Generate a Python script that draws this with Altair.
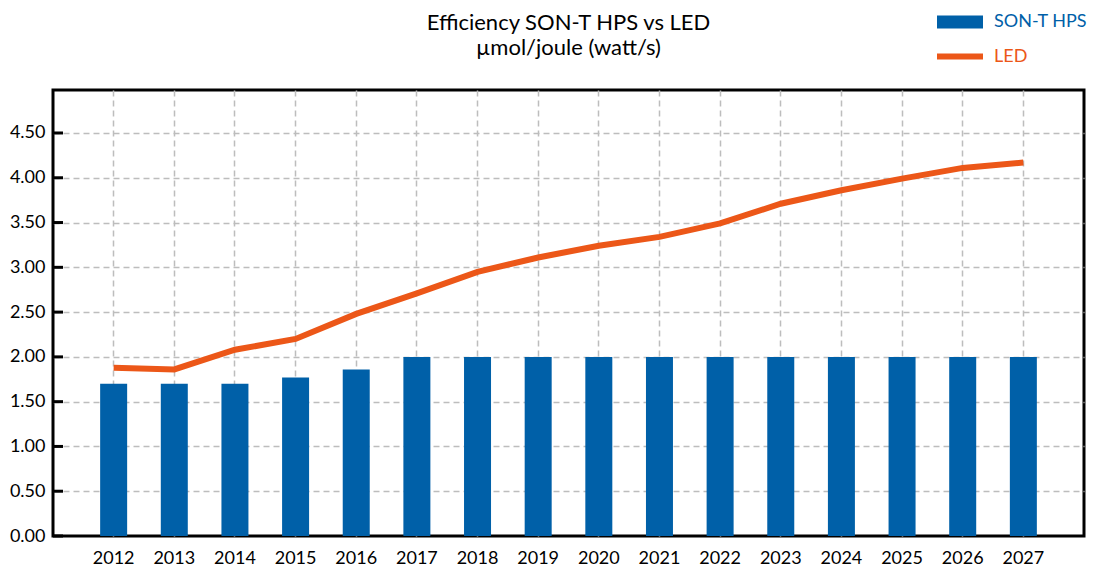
import altair as alt
import pandas as pd

years = ["2012", "2013", "2014", "2015", "2016", "2017", "2018", "2019",
         "2020", "2021", "2022", "2023", "2024", "2025", "2026", "2027"]
son_t_hps = [1.70, 1.70, 1.70, 1.77, 1.86, 2.00, 2.00, 2.00,
             2.00, 2.00, 2.00, 2.00, 2.00, 2.00, 2.00, 2.00]
led = [1.88, 1.86, 2.08, 2.20, 2.48, 2.71, 2.95, 3.11,
       3.24, 3.34, 3.49, 3.71, 3.86, 3.99, 4.11, 4.17]
y_ticks = [0.0, 0.5, 1.0, 1.5, 2.0, 2.5, 3.0, 3.5, 4.0, 4.5]
title_lines = ["Efficiency SON-T HPS vs LED", "µmol/joule (watt/s)"]

BLUE = "#0060A8"
ORANGE = "#EC5718"
FONT = "Lato"

df = pd.DataFrame({
    "year": years,
    "son": son_t_hps,
    "led": led,
    "bar_series": ["SON-T HPS"] * len(years),
    "line_series": ["LED"] * len(years),
})
ticks_df = pd.DataFrame({"v": y_ticks})

x_enc = alt.X("year:N", sort=years,
              scale=alt.Scale(paddingInner=0, paddingOuter=0.5),
              axis=alt.Axis(title=None, labelAngle=0, ticks=False, domain=False,
                            grid=True, gridDash=[6, 4], gridColor="#BDBDBD",
                            gridWidth=1.5, labelFont=FONT, labelFontSize=18,
                            labelColor="black", labelPadding=13))
y_scale = alt.Scale(domain=[0, 4.98], nice=False, zero=True)

bars = alt.Chart(df).mark_bar(size=27).encode(
    x=x_enc,
    y=alt.Y("son:Q", scale=y_scale,
            axis=alt.Axis(title=None, values=y_ticks, format=".2f", ticks=False,
                          domain=False, grid=True, gridDash=[6, 4],
                          gridColor={"condition": {"test": "datum.value === 0",
                                                   "value": "transparent"},
                                     "value": "#BDBDBD"},
                          gridWidth=1.5, labelFont=FONT,
                          labelFontSize=18, labelColor="black", labelPadding=8)),
    fill=alt.Fill("bar_series:N",
                  scale=alt.Scale(domain=["SON-T HPS"], range=[BLUE]),
                  legend=alt.Legend(title=None, orient="none", legendX=884,
                                    legendY=-91, padding=0,
                                    symbolType="M-1,-0.28H1V0.28H-1Z",
                                    symbolSize=2116, symbolStrokeWidth=0,
                                    symbolOpacity=1,
                                    labelColor=BLUE, labelFont=FONT,
                                    labelFontSize=18, labelOffset=11)),
)

line = alt.Chart(df).mark_line(strokeWidth=6).encode(
    x=alt.X("year:N", sort=years),
    y=alt.Y("led:Q", scale=y_scale),
    stroke=alt.Stroke("line_series:N",
                      scale=alt.Scale(domain=["LED"], range=[ORANGE]),
                      legend=alt.Legend(title=None, orient="none", legendX=881,
                                        legendY=-59.5, padding=0,
                                        symbolType="stroke", symbolSize=2116,
                                        symbolStrokeWidth=6,
                                        labelColor=ORANGE, labelFont=FONT,
                                        labelFontSize=18, labelOffset=8)),
)

tick_marks = alt.Chart(ticks_df).mark_rule(color="black", strokeWidth=3).encode(
    x=alt.value(0), x2=alt.value(10),
    y=alt.Y("v:Q", scale=y_scale),
)

chart = alt.layer(bars, line, tick_marks).resolve_legend(
    fill="independent", stroke="independent"
).properties(
    width=1031,
    height=446,
    autosize=alt.AutoSizeParams(type="none"),
    padding={"left": 45, "top": 82, "right": 3, "bottom": 30},
    title=alt.TitleParams(text=title_lines, anchor="middle", frame="group",
                          font=FONT, fontSize=22, fontWeight="normal",
                          color="black", lineHeight=25, offset=34, dy=95),
).configure(
    background="white",
    view=alt.ViewConfig(stroke="black", strokeWidth=3),
)

chart.save("out.html", embed_options={"renderer": "svg", "actions": False})
